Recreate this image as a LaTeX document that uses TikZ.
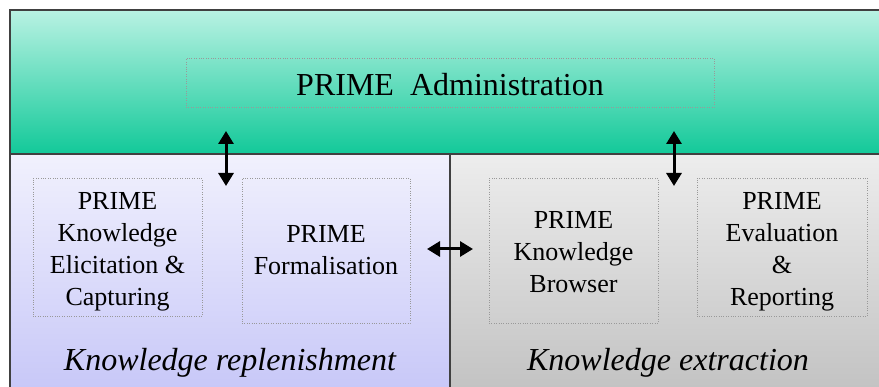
\documentclass[tikz,border=0pt]{standalone}
\usepackage{fontspec}
\setmainfont{Liberation Serif}
\usepackage{xcolor}
\usepackage{tikz}
\usetikzlibrary{positioning,arrows.meta}

\definecolor{bandtop}{HTML}{B9F2E3}
\definecolor{bandbot}{HTML}{12C999}
\definecolor{repltop}{HTML}{F1F1FD}
\definecolor{replbot}{HTML}{C8C8F8}
\definecolor{extrtop}{HTML}{EDEDED}
\definecolor{extrbot}{HTML}{C3C3C3}

\newcommand{\lowtop}{\rule{0pt}{27pt}}

\tikzset{
  panel/.style={inner sep=0pt, outer sep=0pt},
  modbox/.style={draw=gray!80, dotted, align=center, inner sep=0pt,
    font=\fontsize{26}{32}\selectfont},
  areatitle/.style={font=\fontsize{32}{38}\selectfont\itshape},
  link/.style={line width=3pt, {Triangle[width=15pt,length=13pt]}-{Triangle[width=15pt,length=13pt]}},
  edge/.style={draw=black!75, line width=1.2pt}
}

\begin{document}
\begin{tikzpicture}[x=1pt,y=-1pt]
					\useasboundingbox (0,0) rectangle (879,387);
					
					\node[panel, top color=bandtop, bottom color=bandbot, minimum width=869pt, minimum height=144pt](band) at (444.5,82){};
					\node[panel, top color=repltop, bottom color=replbot, minimum width=440pt, minimum height=233pt](repl) at (230,270.5){};
					\node[panel, top color=extrtop, bottom color=extrbot, minimum width=429pt, minimum height=233pt](extr) at (664.5,270.5){};
					
					\draw[edge] (repl.south west) -- (band.north west) -- (band.north east);
					\draw[edge] (band.south west) -- (band.south east);
					\draw[edge] (extr.north west) -- (extr.south west);
					
					\node[modbox, minimum width=528pt, minimum height=49pt, font=\fontsize{32}{38}\selectfont](admin) at (450,82.5){\rule{0pt}{26pt}PRIME\ \ Administration};
					
					\node[modbox, minimum width=169pt, minimum height=138pt](elicit) at (117.5,247){\lowtop PRIME\\Knowledge\\Elicitation \&\\Capturing};
					\node[modbox, minimum width=168pt, minimum height=145pt](formal) at (326,250.5){PRIME\\Formalisation};
					\node[modbox, minimum width=169pt, minimum height=145pt](browse) at (573.5,250.5){\rule{0pt}{21pt}PRIME\\Knowledge\\Browser};
					\node[modbox, minimum width=170pt, minimum height=138pt](report) at (782,247){\lowtop PRIME\\Evaluation\\\&\\Reporting};
					
					\node[areatitle](repltitle) at (230,363){Knowledge replenishment};
					\node[areatitle](extrtitle) at (668,363){Knowledge extraction};
					
					\coordinate (upL) at (226,131);
					\coordinate (downL) at (226,186);
					\coordinate (upR) at (674,131);
					\coordinate (downR) at (674,186);
					\coordinate (midL) at (427,249);
					\coordinate (midR) at (473,249);
					
					\draw[link] (upL) -- (downL);
					\draw[link] (upR) -- (downR);
					\draw[link] (midL) -- (midR);
				\end{tikzpicture}
\end{document}
